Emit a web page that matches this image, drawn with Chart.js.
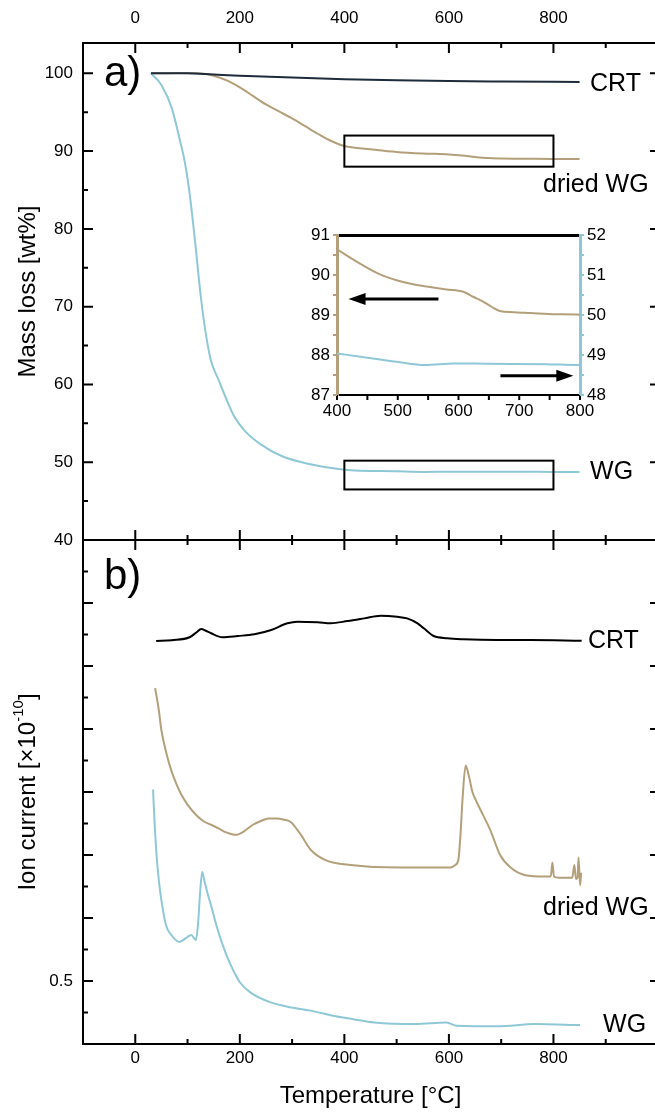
<!DOCTYPE html>
<html>
<head>
<meta charset="utf-8">
<title>TGA / MS</title>
<script src="https://cdn.jsdelivr.net/npm/chart.js@4.4.1/dist/chart.umd.min.js"></script>
<style>
  html, body { margin: 0; padding: 0; background: #fff; overflow: hidden; }
  body  { position: relative; width: 655px; height: 1115px; }
  canvas { position: absolute; }
  #tga   { left: 0; top: 0; }
  #ms    { left: 0; top: 510px; }
  #inset { left: 290px; top: 215px; }
</style>
</head>
<body>
<canvas id="tga" width="680" height="564"></canvas>
<canvas id="ms" width="680" height="605"></canvas>
<canvas id="inset" width="330" height="210"></canvas>
<script>
/* ── a) mass loss (TGA) ─────────────────────────────────── */
const crtMassT = [30, 100, 150, 200, 300, 400, 500, 600, 700, 850];
const crtMass  = [100, 100, 99.85, 99.7, 99.45, 99.25, 99.1, 99.0, 98.95, 98.9];

const dwgMassT = [30, 80, 120, 150, 175, 200, 225, 250, 275, 300, 325, 350, 375, 400, 450, 500, 550, 600, 625, 650, 675, 700, 750, 800, 850];
const dwgMass  = [100, 100.05, 100, 99.7, 99.1, 98.2, 97.1, 96.0, 95.1, 94.2, 93.2, 92.2, 91.3, 90.65, 90.25, 89.9, 89.7, 89.58, 89.45, 89.25, 89.1, 89.05, 89.02, 89.0, 89.0];

const wgMassT = [30, 50, 70, 85, 95, 105, 115, 125, 135, 145, 160, 175, 190, 210, 240, 280, 330, 400, 500, 550, 600, 750, 800, 850];
const wgMass  = [100, 98.5, 95.5, 91.5, 88.5, 84, 78, 71.5, 66.5, 63.0, 60.5, 58.0, 55.8, 54.0, 52.3, 50.8, 49.8, 49.04, 48.83, 48.75, 48.79, 48.77, 48.75, 48.75];

/* inset (400–800 °C) */
const dwgInsetT = [400, 443, 470, 498, 525, 553, 580, 608, 625, 641, 655, 668, 690, 718, 760, 797, 800];
const dwgInset  = [90.64, 90.24, 90.02, 89.87, 89.77, 89.70, 89.64, 89.58, 89.45, 89.33, 89.2, 89.1, 89.07, 89.05, 89.02, 89.01, 89.0];
const wgInsetT  = [400, 450, 498, 545, 592, 650, 745, 797, 800];
const wgInset   = [49.04, 48.93, 48.83, 48.75, 48.79, 48.78, 48.77, 48.75, 48.75];

/* ── b) ion current (MS) ────────────────────────────────── */
const crtIonT = [40, 70, 104, 118, 126, 135, 145, 167, 196, 228, 260, 291, 310, 349, 374, 406, 438, 469, 501, 520, 540, 552, 571, 597, 628, 692, 756, 854];
const crtIon  = [3.198, 3.205, 3.228, 3.27, 3.294, 3.28, 3.26, 3.228, 3.238, 3.252, 3.286, 3.339, 3.352, 3.347, 3.339, 3.357, 3.378, 3.399, 3.391, 3.378, 3.339, 3.299, 3.238, 3.22, 3.212, 3.206, 3.206, 3.2];

const dwgIonT = [38, 45, 50, 60, 69, 80, 88, 100, 116, 130, 145, 160, 174, 193, 205, 212, 225, 240, 255, 269, 285, 298, 310, 317, 336, 364, 412, 508, 560, 603, 612, 618, 622, 626, 632, 638, 645, 651, 665, 679, 698, 718, 746, 784, 795, 798, 801, 810, 836, 840, 843, 846, 848, 851, 853];
const dwgIon  = [2.825, 2.65, 2.49, 2.3, 2.17, 2.05, 1.98, 1.9, 1.82, 1.77, 1.74, 1.71, 1.68, 1.66, 1.68, 1.70, 1.74, 1.77, 1.79, 1.79, 1.78, 1.76, 1.70, 1.66, 1.54, 1.46, 1.42, 1.40, 1.40, 1.40, 1.42, 1.46, 1.65, 1.94, 2.21, 2.13, 2.0, 1.94, 1.82, 1.70, 1.5, 1.40, 1.34, 1.33, 1.33, 1.44, 1.33, 1.32, 1.32, 1.42, 1.31, 1.32, 1.48, 1.26, 1.36];

const wgIonT = [34, 37, 40, 45, 50, 59, 69, 84, 97, 107, 116, 120, 124, 128, 132, 138, 145, 156, 166, 176, 188, 200, 220, 259, 299, 338, 378, 417, 457, 536, 595, 615, 694, 765, 851];
const wgIon  = [2.02, 1.75, 1.54, 1.3, 1.14, 0.94, 0.865, 0.81, 0.84, 0.865, 0.825, 0.95, 1.2, 1.365, 1.3, 1.2, 1.10, 0.93, 0.80, 0.69, 0.58, 0.49, 0.41, 0.33, 0.29, 0.263, 0.224, 0.197, 0.171, 0.158, 0.171, 0.145, 0.14, 0.158, 0.15];

/* ── ticks ──────────────────────────────────────────────── */
const tempLabels  = [0, 200, 400, 600, 800];
const tempMinor   = [100, 300, 500, 700, 900];
const massLabels  = [40, 50, 60, 70, 80, 90, 100];
const massMinor   = [45, 55, 65, 75, 85, 95];
const ionLabels   = [0.5];
const ionMajor    = [0, 0.5, 1, 1.5, 2, 2.5, 3, 3.5, 4];
const ionMinor    = [0.25, 0.75, 1.25, 1.75, 2.25, 2.75, 3.25, 3.75];
const insetTLabels = [400, 500, 600, 700, 800];
const insetTMinor  = [450, 550, 650, 750];
const insetLLabels = [87, 88, 89, 90, 91];
const insetRLabels = [48, 49, 50, 51, 52];
const insetLMinor  = [87.5, 88.5, 89.5, 90.5];
const insetRMinor  = [48.5, 49.5, 50.5, 51.5];

const FONT  = '"Liberation Sans", Arial, sans-serif';
const NAVY  = '#1e2b3b';
const TAN   = '#b3a07a';
const BLUE  = '#8ec8d7';

Chart.defaults.font.family = FONT;
Chart.defaults.color       = '#000';
Chart.defaults.animation   = false;

const pts  = (xs, ys) => xs.map((x, i) => ({ x, y: ys[i] }));
const fix  = (prop, px) => s => { s[prop] = px; };
const only = vals => s => { s.ticks = vals.map(v => ({ value: v })); };
const noGrid = { display: false, drawTicks: false };

function line(data, color, yAxisID, tension) {
  return { data, borderColor: color, borderWidth: 2, pointRadius: 0,
           tension: tension, yAxisID: yAxisID || 'y', cubicInterpolationMode: 'monotone' };
}

/* ── decoration plugin: inward ticks, labels, boxes, arrows ── */
function drawTicks(chart, t) {
  const { ctx, chartArea: a } = chart;
  const s = chart.scales[t.scale];
  ctx.save();
  ctx.strokeStyle = t.color || '#000';
  ctx.lineWidth   = t.width || 2;
  ctx.beginPath();
  t.values.forEach(v => {
    const p = s.getPixelForValue(v);
    const d = t.out ? -t.len : t.len;
    if (t.edge === 'top')    { ctx.moveTo(p, a.top);    ctx.lineTo(p, a.top + d); }
    if (t.edge === 'bottom') { ctx.moveTo(p, a.bottom); ctx.lineTo(p, a.bottom - d); }
    if (t.edge === 'left')   { ctx.moveTo(a.left, p);   ctx.lineTo(a.left + d, p); }
    if (t.edge === 'right')  { ctx.moveTo(a.right, p);  ctx.lineTo(a.right - d, p); }
  });
  ctx.stroke();
  ctx.restore();
}

const decor = {
  id: 'decor',
  afterDatasetsDraw(chart, args, o) {
    const ctx = chart.ctx, sx = chart.scales.x;
    (o.boxes || []).forEach(b => {
      const sy = chart.scales[b.ys || 'y'];
      const x1 = sx.getPixelForValue(b.x1), x2 = sx.getPixelForValue(b.x2);
      const y1 = sy.getPixelForValue(b.y1), y2 = sy.getPixelForValue(b.y2);
      ctx.save();
      ctx.strokeStyle = '#000'; ctx.lineWidth = 2;
      ctx.strokeRect(x1, y2, x2 - x1, y1 - y2);
      ctx.restore();
    });
    (o.arrows || []).forEach(r => {
      const sy = chart.scales[r.ys || 'y'];
      const x1 = sx.getPixelForValue(r.x1), x2 = sx.getPixelForValue(r.x2);
      const y  = sy.getPixelForValue(r.y);
      const dir = Math.sign(x2 - x1);
      ctx.save();
      ctx.strokeStyle = ctx.fillStyle = '#000';
      ctx.lineWidth = 3;
      ctx.beginPath(); ctx.moveTo(x1, y); ctx.lineTo(x2 - dir * 12, y); ctx.stroke();
      ctx.beginPath();
      ctx.moveTo(x2, y); ctx.lineTo(x2 - dir * 17, y - 6); ctx.lineTo(x2 - dir * 17, y + 6);
      ctx.closePath(); ctx.fill();
      ctx.restore();
    });
  },
  afterDraw(chart, args, o) {
    (o.ticks || []).forEach(t => drawTicks(chart, t));
    const ctx = chart.ctx;
    (o.texts || []).forEach(t => {
      const x = chart.scales.x.getPixelForValue(t.x);
      const y = chart.scales[t.ys || 'y'].getPixelForValue(t.y);
      ctx.save();
      ctx.fillStyle = '#000';
      ctx.font = `${t.size}px ${FONT}`;
      ctx.textAlign = 'left';
      ctx.textBaseline = 'middle';
      ctx.fillText(t.text, x, y);
      ctx.restore();
    });
  }
};
Chart.register(decor);

function frameTicks(xMaj, xMin, yScale, yMaj, yMin, rightMaj) {
  return [
    { scale: 'x', edge: 'top',    values: xMaj, len: 10 },
    { scale: 'x', edge: 'top',    values: xMin, len: 5 },
    { scale: 'x', edge: 'bottom', values: xMaj, len: 10 },
    { scale: 'x', edge: 'bottom', values: xMin, len: 5 },
    { scale: yScale, edge: 'left',  values: yMaj, len: 10 },
    { scale: yScale, edge: 'left',  values: yMin, len: 5 },
    { scale: yScale, edge: 'right', values: rightMaj, len: 8 },
  ];
}

/* ── panel a ─────────────────────────────────────────────── */
new Chart(document.getElementById('tga'), {
  type: 'line',
  data: { datasets: [
    line(pts(crtMassT, crtMass), NAVY, 'y', 0),
    line(pts(dwgMassT, dwgMass), TAN,  'y', 0.4),
    line(pts(wgMassT,  wgMass),  BLUE, 'y', 0.4),
  ] },
  options: {
    responsive: false,
    layout: { padding: 0 },
    plugins: {
      legend: { display: false }, tooltip: { enabled: false },
      decor: {
        ticks: frameTicks(tempLabels, tempMinor, 'y', massLabels, massMinor, massLabels),
        boxes: [ { x1: 400, x2: 800, y1: 88, y2: 92 }, { x1: 400, x2: 800, y1: 46.5, y2: 50.2 } ],
        texts: [
          { text: 'a)',       x: -60, y: 99.8, size: 42 },
          { text: 'CRT',      x: 870, y: 98.6, size: 25 },
          { text: 'dried WG', x: 780, y: 85.6, size: 25 },
          { text: 'WG',       x: 870, y: 48.7, size: 25 },
        ]
      }
    },
    scales: {
      x:  { type: 'linear', min: -100, max: 1000, position: 'bottom',
            ticks: { display: false }, grid: noGrid,
            border: { color: '#000', width: 2 }, afterFit: fix('height', 24) },
      x2: { type: 'linear', min: -100, max: 1000, position: 'top',
            afterBuildTicks: only(tempLabels),
            ticks: { font: { size: 17 }, padding: 14, maxRotation: 0 }, grid: noGrid,
            border: { color: '#000', width: 2 }, afterFit: fix('height', 43) },
      y:  { type: 'linear', min: 40, max: 103.9, position: 'left',
            afterBuildTicks: only(massLabels),
            ticks: { font: { size: 17 }, padding: 10 }, grid: noGrid,
            border: { color: '#000', width: 2 },
            title: { display: true, text: 'Mass loss [wt%]', font: { size: 24 }, padding: { top: 14 } },
            afterFit: fix('width', 83) },
      y2: { type: 'linear', min: 40, max: 103.9, position: 'right',
            ticks: { display: false }, grid: noGrid,
            border: { color: '#000', width: 2 }, afterFit: fix('width', 22) },
    }
  }
});

/* ── panel b ─────────────────────────────────────────────── */
const ionTitle = {
  id: 'ionTitle',
  afterDraw(chart) {
    const { ctx, chartArea: a } = chart;
    const cy = (a.top + a.bottom) / 2;
    ctx.save();
    ctx.translate(28, cy);
    ctx.rotate(-Math.PI / 2);
    ctx.fillStyle = '#000';
    ctx.textBaseline = 'middle';
    const main = 'Ion current [×10', sup = '-10', end = ']';
    ctx.font = `24px ${FONT}`;
    const w1 = ctx.measureText(main).width, w3 = ctx.measureText(end).width;
    ctx.font = `15px ${FONT}`;
    const w2 = ctx.measureText(sup).width;
    let x = -(w1 + w2 + w3) / 2;
    ctx.font = `24px ${FONT}`;
    ctx.fillText(main, x, 0); x += w1;
    ctx.font = `15px ${FONT}`;
    ctx.fillText(sup, x, -9); x += w2;
    ctx.font = `24px ${FONT}`;
    ctx.fillText(end, x, 0);
    ctx.restore();
  }
};

new Chart(document.getElementById('ms'), {
  type: 'line',
  data: { datasets: [
    line(pts(crtIonT, crtIon), '#000', 'y', 0.2),
    line(pts(dwgIonT, dwgIon), TAN,    'y', 0.2),
    line(pts(wgIonT,  wgIon),  BLUE,   'y', 0.2),
  ] },
  options: {
    responsive: false,
    layout: { padding: 0 },
    plugins: {
      legend: { display: false }, tooltip: { enabled: false },
      decor: {
        ticks: frameTicks(tempLabels, tempMinor, 'y', ionMajor, ionMinor, ionMajor),
        texts: [
          { text: 'b)',       x: -60, y: 3.70, size: 42 },
          { text: 'CRT',      x: 866, y: 3.2,  size: 25 },
          { text: 'dried WG', x: 780, y: 1.08, size: 25 },
          { text: 'WG',       x: 895, y: 0.15, size: 25 },
        ]
      }
    },
    scales: {
      x:  { type: 'linear', min: -100, max: 1000, position: 'bottom',
            afterBuildTicks: only(tempLabels),
            ticks: { font: { size: 17 }, padding: 4, maxRotation: 0 }, grid: noGrid,
            border: { color: '#000', width: 2 },
            title: { display: true, text: 'Temperature [°C]', font: { size: 24 }, padding: { bottom: 4 } },
            afterFit: fix('height', 71) },
      x2: { type: 'linear', min: -100, max: 1000, position: 'top',
            ticks: { display: false }, grid: noGrid,
            border: { color: '#000', width: 2 }, afterFit: fix('height', 30) },
      y:  { type: 'linear', min: 0, max: 4, position: 'left',
            afterBuildTicks: only(ionLabels),
            ticks: { font: { size: 17 }, padding: 10 }, grid: noGrid,
            border: { color: '#000', width: 2 }, afterFit: fix('width', 83) },
      y2: { type: 'linear', min: 0, max: 4, position: 'right',
            ticks: { display: false }, grid: noGrid,
            border: { color: '#000', width: 2 }, afterFit: fix('width', 22) },
    }
  },
  plugins: [ionTitle]
});

/* ── inset ───────────────────────────────────────────────── */
new Chart(document.getElementById('inset'), {
  type: 'line',
  data: { datasets: [
    line(pts(dwgInsetT, dwgInset), TAN,  'y',  0.3),
    line(pts(wgInsetT,  wgInset),  BLUE, 'y2', 0.3),
  ] },
  options: {
    responsive: false,
    layout: { padding: 0 },
    plugins: {
      legend: { display: false }, tooltip: { enabled: false },
      decor: {
        ticks: [
          { scale: 'x',  edge: 'bottom', values: insetTLabels.concat(insetTMinor), len: 5, out: true },
          { scale: 'y',  edge: 'left',   values: insetLLabels.concat(insetLMinor), len: 4, out: true, color: TAN },
          { scale: 'y2', edge: 'right',  values: insetRLabels.concat(insetRMinor), len: 4, out: true, color: BLUE },
        ],
        arrows: [
          { x1: 567, x2: 419, y: 89.40 },
          { x1: 669, x2: 789, y: 48.48, ys: 'y2' },
        ]
      }
    },
    scales: {
      x:  { type: 'linear', min: 400, max: 800, position: 'bottom',
            afterBuildTicks: only(insetTLabels),
            ticks: { font: { size: 17 }, padding: 6, maxRotation: 0 }, grid: noGrid,
            border: { color: '#000', width: 2 }, afterFit: fix('height', 30) },
      x2: { type: 'linear', min: 400, max: 800, position: 'top',
            ticks: { display: false }, grid: noGrid,
            border: { color: '#000', width: 3 }, afterFit: fix('height', 20) },
      y:  { type: 'linear', min: 87, max: 91, position: 'left',
            afterBuildTicks: only(insetLLabels),
            ticks: { font: { size: 17 }, padding: 7 }, grid: noGrid,
            border: { color: TAN, width: 3 }, afterFit: fix('width', 47) },
      y2: { type: 'linear', min: 48, max: 52, position: 'right',
            afterBuildTicks: only(insetRLabels),
            ticks: { font: { size: 17 }, padding: 7 }, grid: noGrid,
            border: { color: BLUE, width: 3 }, afterFit: fix('width', 40) },
    }
  }
});
</script>
</body>
</html>
